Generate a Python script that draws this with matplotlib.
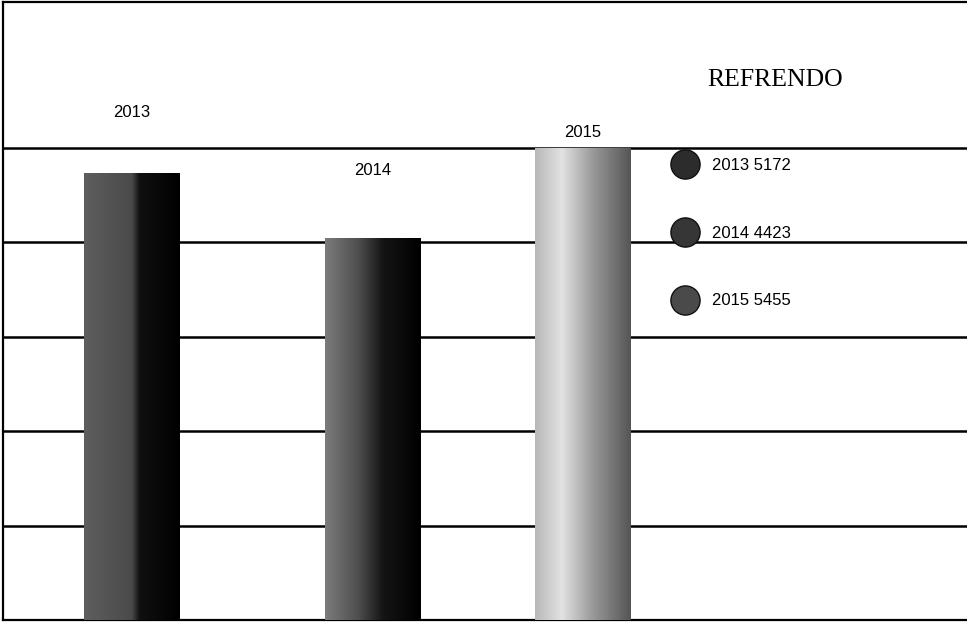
import matplotlib.pyplot as plt
import numpy as np
from matplotlib.colors import LinearSegmentedColormap
from matplotlib.lines import Line2D

# data
years = ["2013", "2014", "2015"]
values = [5172, 4423, 5455]
title = "REFRENDO"

# layout (figure pixels / pixel offsets)
bar_x = [132, 373, 583]
bar_w = 96
label_dy = [60, 67, 16]
PX_PER_UNIT = 0.08646
YMAX = 618 / PX_PER_UNIT
grid_vals = np.arange(1, 6) * 1092

LABEL_FONT = ["Liberation Sans", "DejaVu Sans"]

bar_cmaps = [
    LinearSegmentedColormap.from_list(
        "b13", [(0, "#5e5e5e"), (0.5, "#4a4a4a"), (0.58, "#101010"), (1, "#000000")]),
    LinearSegmentedColormap.from_list(
        "b14", [(0, "#7c7c7c"), (0.35, "#4e4e4e"), (0.6, "#151515"), (1, "#000000")]),
    LinearSegmentedColormap.from_list(
        "b15", [(0, "#b8b8b8"), (0.28, "#e2e2e2"), (0.6, "#9a9a9a"), (1, "#555555")]),
]
marker_colors = ["#2c2c2c", "#363636", "#4a4a4a"]

fig = plt.figure(figsize=(9.67, 6.23), dpi=100)
fig.patch.set_facecolor("white")
ax = fig.add_axes([3 / 967, 3 / 623, 964 / 967, 618 / 623])
ax.set_xlim(3, 967)
ax.set_ylim(0, YMAX)

for gv in grid_vals:
    ax.axhline(gv, color="black", lw=1.8, zorder=1)

grad = np.linspace(0, 1, 256).reshape(1, -1)
bars = ax.bar(bar_x, values, width=bar_w, color="none", edgecolor="none", zorder=2)
for b, cm in zip(bars, bar_cmaps):
    x0, y0 = b.get_x(), b.get_y()
    im = ax.imshow(grad, cmap=cm, aspect="auto", zorder=3,
                   extent=(x0, x0 + b.get_width(), y0, y0 + b.get_height()))
    im.set_clip_path(b)

for x, v, yr, dy in zip(bar_x, values, years, label_dy):
    ax.annotate(yr, (x, v), xytext=(0, dy), textcoords="offset pixels",
                ha="center", va="center", fontsize=12, family=LABEL_FONT)

ax.text(775, YMAX - (80 - 2) / PX_PER_UNIT, title, ha="center", va="center",
        fontsize=18.5, family=["Liberation Serif"])

handles = [Line2D([], [], ls="none", marker="o", markersize=21,
                  markerfacecolor=c, markeredgecolor="#111111")
           for c in marker_colors]
labels = [f"{y} {v}" for y, v in zip(years, values)]
leg = ax.legend(handles, labels, loc="upper left", bbox_to_anchor=(660 / 967, 473 / 623),
                bbox_transform=fig.transFigure, frameon=False, borderpad=0,
                handletextpad=0.65, labelspacing=3.15, prop={"family": LABEL_FONT, "size": 12})
leg.set_zorder(5)

ax.set_xticks([])
ax.set_yticks([])
for side in ["left", "top", "bottom"]:
    ax.spines[side].set_linewidth(1.6)
ax.spines["right"].set_visible(False)

fig.savefig("out.png", dpi=100, facecolor="white")
